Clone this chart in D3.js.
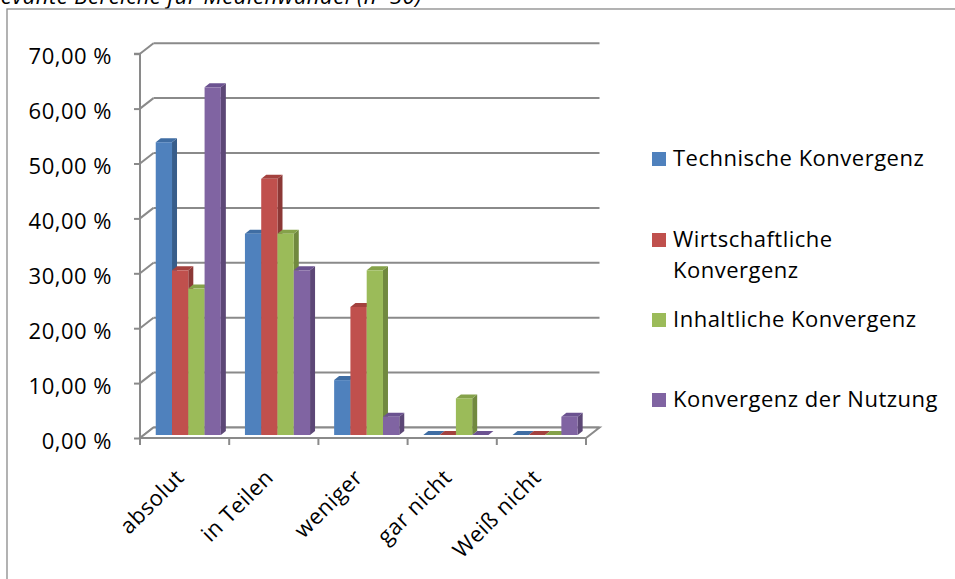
<!DOCTYPE html>
<html><head><meta charset="utf-8">
<script src="https://cdn.jsdelivr.net/npm/d3@7"></script>
<style>
html,body{margin:0;padding:0;background:#fff;overflow:hidden;}
svg{display:block;font-family:"Open Sans",sans-serif;}
</style></head>
<body>
<svg id="chart" width="955" height="579"></svg>
<script>
// ---- data ----
const titleText = "Relevante Bereiche für Medienwandel (n=30)";
const categories = ["absolut", "in Teilen", "weniger", "gar nicht", "Weiß nicht"];
const seriesNames = ["Technische Konvergenz", "Wirtschaftliche Konvergenz", "Inhaltliche Konvergenz", "Konvergenz der Nutzung"];
const technische   = [53.33, 36.67, 10.00, 0.00, 0.00];
const wirtschaft   = [30.00, 46.67, 23.33, 0.00, 0.00];
const inhaltlich   = [26.67, 36.67, 30.00, 6.67, 0.00];
const nutzung      = [63.33, 30.00, 3.33, 0.00, 3.33];
const yTicks = [0, 10, 20, 30, 40, 50, 60, 70];
const legendLines = [["Technische Konvergenz"], ["Wirtschaftliche", "Konvergenz"], ["Inhaltliche Konvergenz"], ["Konvergenz der Nutzung"]];

const seriesValues = [technische, wirtschaft, inhaltlich, nutzung];
const colors = ["#4F81BD", "#C0504D", "#9BBB59", "#8064A2"];
const sideColors = ["#385D8A", "#8C3836", "#71893F", "#5C4776"];
const topColors = ["#3F6DA3", "#A3413E", "#85A24A", "#6B5290"];

const svg = d3.select("#chart");
const grid = "#8a8a8a";
const fs = 22, ls = 0.5;

// title (cut off at top, as in the source)
svg.append("text").attr("x", 422).attr("y", 4).attr("text-anchor", "end")
  .attr("font-style", "italic").attr("font-size", fs).attr("letter-spacing", ls).attr("fill", "#000").text(titleText);

// outer frame
svg.append("rect").attr("x", 7).attr("y", 9).attr("width", 1000).attr("height", 700)
  .attr("fill", "none").attr("stroke", grid).attr("stroke-width", 1.3);

// scales
const x0 = 140, x1 = 586, yBase = 438, yTop = 53.7;
const depthX = 13.5, depthY = -10.5;
const y = d3.scaleLinear().domain([0, 70]).range([yBase, yTop]);
const xBand = d3.scaleBand().domain(categories).range([x0, x1]).paddingInner(0.27).paddingOuter(0.135);
const xSeries = d3.scaleBand().domain(d3.range(seriesNames.length)).range([0, xBand.bandwidth()]);

// back wall gridlines + side wall diagonals
const g = svg.append("g");
yTicks.forEach(t => {
  const yy = y(t);
  g.append("line").attr("x1", x0 + depthX).attr("x2", x1 + depthX).attr("y1", yy + depthY).attr("y2", yy + depthY)
    .attr("stroke", grid).attr("stroke-width", 2);
  g.append("line").attr("x1", x0).attr("x2", x0 + depthX).attr("y1", yy).attr("y2", yy + depthY)
    .attr("stroke", grid).attr("stroke-width", 2);
});

// floor
g.append("path").attr("d", `M${x0},${yBase} L${x1},${yBase} L${x1 + depthX},${yBase + depthY} L${x0 + depthX},${yBase + depthY} Z`)
  .attr("fill", "#fff").attr("stroke", grid).attr("stroke-width", 2);

// bars
const bx = 3.7, by = -3, bdx = 5, bdy = -4;
const bars = svg.append("g");
categories.forEach((c, ci) => {
  seriesValues.forEach((vals, si) => {
    const v = vals[ci];
    const left = xBand(c) + xSeries(si) + bx;
    const w = xSeries.bandwidth();
    const top = y(v) + by, bottom = y(0) + by;
    bars.append("path").attr("d", `M${left + w},${bottom} L${left + w + bdx},${bottom + bdy} L${left + w + bdx},${top + bdy} L${left + w},${top} Z`)
      .attr("fill", sideColors[si]);
    bars.append("path").attr("d", `M${left},${top} L${left + bdx},${top + bdy} L${left + w + bdx},${top + bdy} L${left + w},${top} Z`)
      .attr("fill", topColors[si]);
    bars.append("rect").attr("x", left).attr("y", top).attr("width", w).attr("height", Math.max(0, bottom - top))
      .attr("fill", colors[si]);
  });
});

// y axis
const yAxis = d3.axisLeft(y).tickValues(yTicks).tickSize(6).tickPadding(22)
  .tickFormat(d => d.toFixed(2).replace(".", ",") + " %");
const ya = svg.append("g").attr("transform", `translate(${x0},0)`).call(yAxis);
ya.select(".domain").attr("stroke", grid).attr("stroke-width", 2).attr("d", `M-6,${yTop}H0V${yBase}`);
ya.selectAll(".tick line").attr("stroke", grid).attr("stroke-width", 2);
ya.selectAll(".tick text").attr("font-size", fs).attr("letter-spacing", ls).attr("font-family", "Open Sans")
  .attr("fill", "#000").attr("dy", "0.46em");

// x axis ticks
const ticksX = d3.range(categories.length + 1).map(i => x0 + i * xBand.step());
svg.append("g").selectAll("line").data(ticksX).join("line")
  .attr("x1", d => d).attr("x2", d => d).attr("y1", yBase).attr("y2", yBase + 7)
  .attr("stroke", grid).attr("stroke-width", 2);

// category labels
svg.append("g").selectAll("text").data(categories).join("text")
  .attr("transform", d => `translate(${xBand(d) + xBand.bandwidth() / 2 - 10},${yBase + 30}) rotate(-45)`)
  .attr("text-anchor", "end").attr("dy", "0.7em").attr("font-size", fs).attr("letter-spacing", ls).attr("fill", "#000").text(d => d);

// legend
const legendBase = [166, 247, 327, 407];
const lg = svg.append("g");
legendLines.forEach((lines, i) => {
  lg.append("rect").attr("x", 652).attr("y", legendBase[i] - 14).attr("width", 14).attr("height", 14).attr("fill", colors[i]);
  lines.forEach((ln, j) => {
    lg.append("text").attr("x", 673).attr("y", legendBase[i] + j * 31).attr("font-size", fs).attr("letter-spacing", ls).attr("fill", "#000").text(ln);
  });
});
</script>
</body></html>
